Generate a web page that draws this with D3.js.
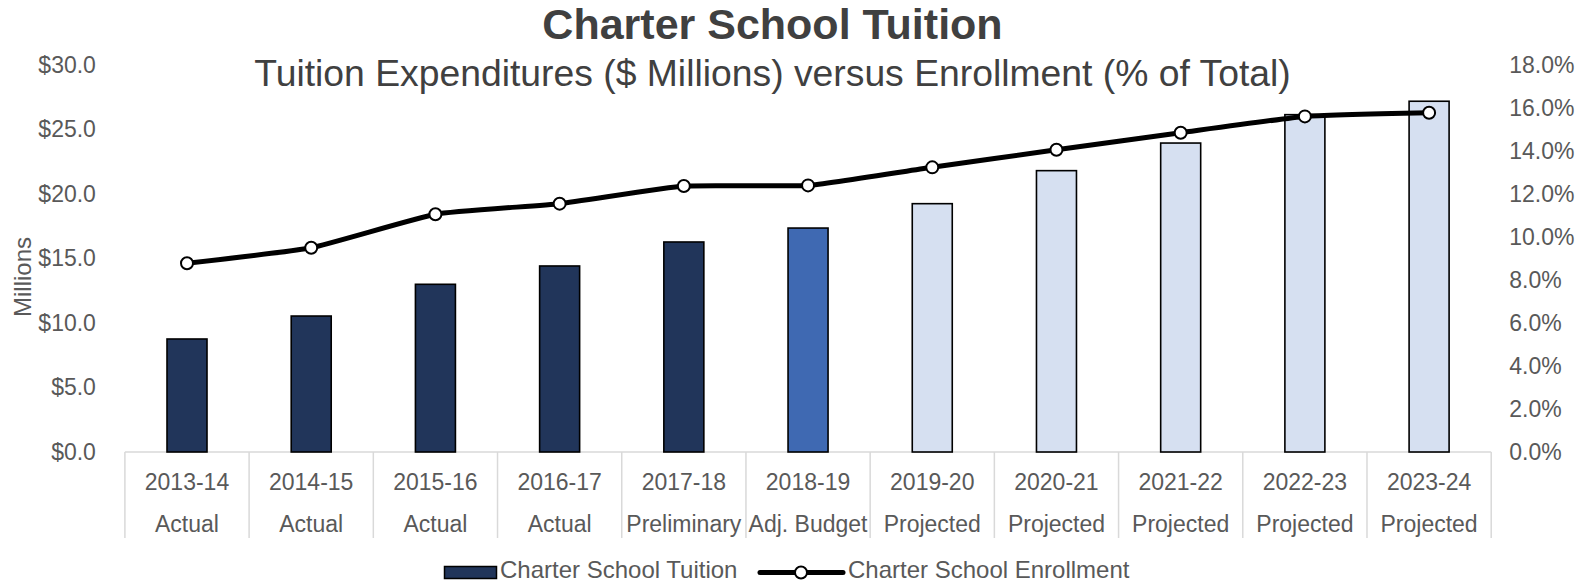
<!DOCTYPE html>
<html>
<head>
<meta charset="utf-8">
<script src="https://cdn.jsdelivr.net/npm/d3@7"></script>
<style>
  html, body { margin: 0; padding: 0; background: #fff; }
  svg { display: block; font-family: "Liberation Sans", Arial, sans-serif; }
</style>
</head>
<body>
<svg id="chart" width="1595" height="583"></svg>
<script>
// Fiscal years and their status row
const years = ["2013-14","2014-15","2015-16","2016-17","2017-18","2018-19","2019-20","2020-21","2021-22","2022-23","2023-24"];
const statuses = ["Actual","Actual","Actual","Actual","Preliminary","Adj. Budget","Projected","Projected","Projected","Projected","Projected"];

// Charter school tuition, $ millions
const tuition = [8.76, 10.54, 13.0, 14.42, 16.28, 17.36, 19.25, 21.81, 23.95, 26.15, 27.19];
// Charter school enrollment, % of total
const enrollment = [8.78, 9.50, 11.06, 11.55, 12.37, 12.40, 13.24, 14.06, 14.85, 15.61, 15.78];

// Axis ticks
const leftTicks = [0, 5, 10, 15, 20, 25, 30];
const rightTicks = [0, 2, 4, 6, 8, 10, 12, 14, 16, 18];

const svg = d3.select("#chart");
const plotTop = 65, plotBottom = 452, plotLeft = 124.9, plotRight = 1491.2;

const x = d3.scaleBand().domain(years).range([plotLeft, plotRight]).padding(0);
const yL = d3.scaleLinear().domain([0, 30]).range([plotBottom, plotTop]);
const yR = d3.scaleLinear().domain([0, 18]).range([plotBottom, plotTop]);

const barW = 40;
const fillFor = s => s === "Projected" ? "#d6e0f1" : (s === "Adj. Budget" ? "#3f69b2" : "#21355a");

// Titles
svg.append("text").attr("x", 772.5).attr("y", 38.5).attr("text-anchor", "middle")
  .attr("font-size", 43).attr("font-weight", "bold").attr("fill", "#404040")
  .text("Charter School Tuition");
svg.append("text").attr("x", 772.5).attr("y", 86).attr("text-anchor", "middle")
  .attr("font-size", 37.3).attr("fill", "#404040")
  .text("Tuition Expenditures ($ Millions) versus Enrollment (% of Total)");

// Left axis ($ millions)
const axL = svg.append("g").attr("transform", `translate(${plotLeft - 29},0)`)
  .call(d3.axisLeft(yL).tickValues(leftTicks).tickSize(0).tickPadding(0)
    .tickFormat(d => "$" + d3.format(".1f")(d)));
axL.select(".domain").remove();
axL.selectAll("text").attr("font-size", 23).attr("fill", "#595959")
  .attr("font-family", "Liberation Sans, Arial, sans-serif");

// Right axis (% of total)
const axR = svg.append("g").attr("transform", `translate(${plotRight + 18},0)`)
  .call(d3.axisRight(yR).tickValues(rightTicks).tickSize(0).tickPadding(0)
    .tickFormat(d => d3.format(".1f")(d) + "%"));
axR.select(".domain").remove();
axR.selectAll("text").attr("font-size", 23).attr("fill", "#595959")
  .attr("font-family", "Liberation Sans, Arial, sans-serif");

// Y axis title
svg.append("text").attr("transform", "translate(31,277) rotate(-90)")
  .attr("text-anchor", "middle").attr("font-size", 24).attr("fill", "#595959")
  .text("Millions");

// Category axis: baseline, cell dividers, two label rows
const cat = svg.append("g");
cat.append("line").attr("x1", plotLeft).attr("x2", plotRight).attr("y1", plotBottom).attr("y2", plotBottom)
  .attr("stroke", "#d9d9d9").attr("stroke-width", 1.5);
const edges = years.map(y => x(y)).concat([x(years[years.length - 1]) + x.bandwidth()]);
cat.selectAll("line.div").data(edges).join("line").attr("class", "div")
  .attr("x1", d => d).attr("x2", d => d).attr("y1", plotBottom).attr("y2", 538)
  .attr("stroke", "#d9d9d9").attr("stroke-width", 1.5);
cat.selectAll("text.yr").data(years).join("text").attr("class", "yr")
  .attr("x", d => x(d) + x.bandwidth() / 2).attr("y", 490)
  .attr("text-anchor", "middle").attr("font-size", 23).attr("fill", "#595959")
  .text(d => d);
cat.selectAll("text.st").data(statuses).join("text").attr("class", "st")
  .attr("x", (d, i) => x(years[i]) + x.bandwidth() / 2).attr("y", 531.5)
  .attr("text-anchor", "middle").attr("font-size", 23).attr("fill", "#595959")
  .text(d => d);

// Tuition bars
svg.append("g").selectAll("rect").data(tuition).join("rect")
  .attr("x", (d, i) => x(years[i]) + x.bandwidth() / 2 - barW / 2)
  .attr("y", d => yL(d))
  .attr("width", barW)
  .attr("height", d => plotBottom - yL(d))
  .attr("fill", (d, i) => fillFor(statuses[i]))
  .attr("stroke", "#000").attr("stroke-width", 1.6);

// Enrollment line with markers (lightly smoothed)
const pts = enrollment.map((v, i) => [x(years[i]) + x.bandwidth() / 2, yR(v)]);
svg.append("path").datum(pts)
  .attr("d", d3.line().curve(d3.curveCardinal.tension(0.6)))
  .attr("fill", "none").attr("stroke", "#000").attr("stroke-width", 5)
  .attr("stroke-linejoin", "round").attr("stroke-linecap", "round");
svg.append("g").selectAll("circle").data(pts).join("circle")
  .attr("cx", d => d[0]).attr("cy", d => d[1]).attr("r", 6)
  .attr("fill", "#fff").attr("stroke", "#000").attr("stroke-width", 2);

// Legend
const lg = svg.append("g");
lg.append("rect").attr("x", 444.5).attr("y", 566.5).attr("width", 52).attr("height", 12)
  .attr("fill", "#21355a").attr("stroke", "#000").attr("stroke-width", 1.5);
lg.append("text").attr("x", 500).attr("y", 577.5).attr("font-size", 24).attr("fill", "#595959")
  .text("Charter School Tuition");
lg.append("line").attr("x1", 760).attr("x2", 843).attr("y1", 572.5).attr("y2", 572.5)
  .attr("stroke", "#000").attr("stroke-width", 5).attr("stroke-linecap", "round");
lg.append("circle").attr("cx", 801).attr("cy", 572.5).attr("r", 6)
  .attr("fill", "#fff").attr("stroke", "#000").attr("stroke-width", 2);
lg.append("text").attr("x", 848).attr("y", 577.5).attr("font-size", 24).attr("fill", "#595959")
  .text("Charter School Enrollment");
</script>
</body>
</html>
